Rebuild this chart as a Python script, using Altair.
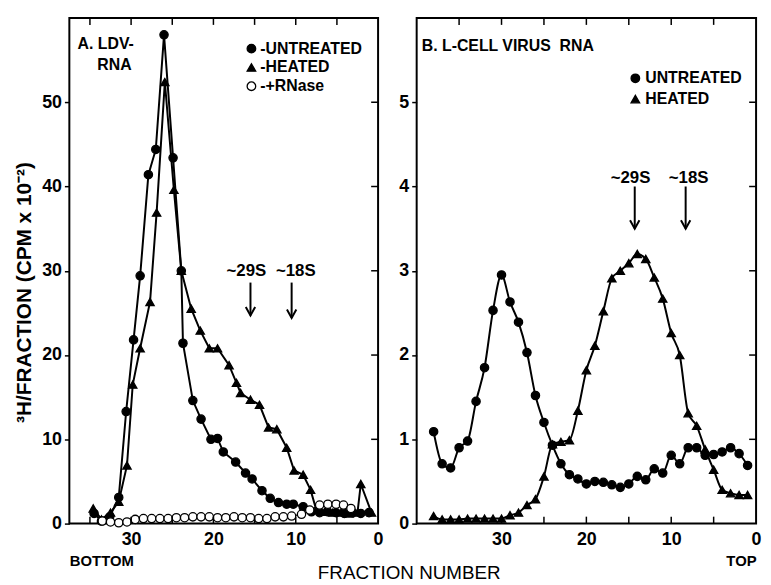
import altair as alt
import pandas as pd

FONT = "Liberation Sans"

# ---------------- Panel A: LDV-RNA ----------------
a_untreated_fraction = [34.5, 33.6, 32.6, 31.5, 30.6, 29.7, 28.9, 27.9, 27.0, 26.0, 24.9, 23.9, 23.7,
                        22.5, 21.5, 20.3, 19.5, 18.8, 17.3, 16.1, 15.3, 14.1, 13.1, 12.1, 11.1, 10.3,
                        9.1, 8.1, 7.1, 6.1, 5.1, 4.1, 3.1, 2.1, 1.1]
a_untreated_value = [1.2, 0.3, 0.8, 3.1, 13.3, 21.8, 29.4, 41.4, 44.4, 58.0, 43.4, 30.0, 21.4,
                     14.6, 12.4, 10.0, 10.1, 8.5, 7.3, 6.0, 5.3, 3.9, 3.0, 2.5, 2.3, 2.3,
                     2.0, 1.4, 1.3, 1.4, 1.3, 1.2, 1.3, 1.2, 1.3]

a_heated_fraction = [34.6, 33.6, 32.5, 31.5, 30.5, 29.8, 28.9, 27.7, 26.9, 25.9, 24.8, 23.9, 22.7,
                     21.6, 20.5, 19.5, 18.1, 17.2, 16.7, 15.5, 14.4, 13.3, 12.3, 11.1, 10.2, 9.1,
                     8.2, 7.5, 6.5, 5.5, 4.5, 3.5, 2.5, 2.1, 0.8]
a_heated_value = [1.8, 0.5, 1.3, 2.6, 6.9, 16.5, 20.8, 26.3, 36.9, 52.4, 39.6, 30.0, 25.5,
                  22.9, 20.8, 20.8, 18.8, 16.7, 15.5, 14.7, 14.1, 11.4, 11.2, 9.0, 6.3, 5.8,
                  4.0, 1.6, 1.4, 1.3, 1.3, 1.2, 1.3, 4.7, 1.3]

a_rnase_fraction = [33.5, 32.5, 31.5, 30.5, 29.5, 28.5, 27.5, 26.5, 25.5, 24.5, 23.5, 22.5, 21.5,
                    20.5, 19.5, 18.5, 17.5, 16.5, 15.5, 14.5, 13.5, 12.5, 11.5, 10.5, 9.3, 8.3,
                    7.1, 6.1, 5.1, 4.2, 3.3]
a_rnase_value = [0.3, 0.2, 0.1, 0.2, 0.5, 0.6, 0.6, 0.6, 0.6, 0.7, 0.7, 0.8, 0.8,
                 0.8, 0.7, 0.7, 0.8, 0.7, 0.7, 0.6, 0.6, 0.8, 0.8, 0.9, 1.1, 1.6,
                 2.2, 2.3, 2.3, 2.2, 1.8]

a_marker_labels = ["~29S", "~18S"]
a_marker_label_fraction = [16.0, 10.0]
a_marker_label_value = [30.0, 30.0]
a_arrow_fraction = [15.5, 10.5]
a_arrow_top = [28.6, 28.6]
a_arrow_tip = [24.7, 24.4]

a_panel_text = ["A. LDV-", "RNA"]
a_panel_text_fraction = [36.5, 34.1]
a_panel_text_value = [56.9, 54.4]

a_y_ticks = [0, 10, 20, 30, 40, 50]
a_inner_y_ticks = [10, 20, 30, 40, 50]

# ---------------- Panel B: L-cell virus RNA ----------------
b_fraction = list(range(38, 0, -1))
b_untreated_value = [1.09, 0.71, 0.66, 0.90, 0.98, 1.45, 1.85, 2.53, 2.95, 2.63, 2.39, 2.03, 1.52,
                     1.20, 0.93, 0.71, 0.58, 0.53, 0.47, 0.50, 0.49, 0.46, 0.43, 0.47, 0.56, 0.52,
                     0.65, 0.60, 0.81, 0.71, 0.90, 0.90, 0.81, 0.82, 0.85, 0.90, 0.83, 0.69]
b_heated_value = [0.09, 0.05, 0.05, 0.05, 0.06, 0.06, 0.06, 0.06, 0.06, 0.10, 0.13, 0.22, 0.29,
                  0.56, 0.94, 0.97, 0.99, 1.34, 1.82, 2.11, 2.52, 2.91, 3.00, 3.09, 3.20, 3.14,
                  2.92, 2.67, 2.26, 2.00, 1.31, 1.16, 0.88, 0.64, 0.40, 0.36, 0.34, 0.34]

b_marker_labels = ["~29S", "~18S"]
b_marker_label_fraction = [14.8, 7.95]
b_marker_label_value = [4.1, 4.1]
b_arrow_fraction = [14.3, 8.3]
b_arrow_top = [4.0, 4.0]
b_arrow_tip = [3.5, 3.5]

b_panel_text = ["B. L-CELL VIRUS\u00a0\u00a0RNA"]
b_panel_text_fraction = [39.4]
b_panel_text_value = [5.67]

b_y_ticks = [0, 1, 2, 3, 4, 5]
b_inner_y_ticks = [1, 2, 3, 4, 5]

x_labels = [30, 20, 10, 0]
x_inner_ticks = [35, 30, 25, 20, 15, 10, 5]

SERIES_ALL = ["UNTREATED", "HEATED", "+RNase"]
SHAPES_ALL = ["circle", "triangle-up", "circle"]
FILLS_ALL = ["black", "black", "white"]


def series_df(names, fracs, vals):
    rows = []
    for name, fs, vs in zip(names, fracs, vals):
        for f, v in zip(fs, vs):
            rows.append({"series": name, "fraction": f, "value": v})
    return pd.DataFrame(rows)


def build_panel(df, names, xdom, ydom, yticks, ytitle, xtitle, anchor, width, height, interp,
                legend_x, legend_y, label_expr, label_offset, row_pad,
                mk_labels, mk_lf, mk_lv, ar_f, ar_top, ar_tip,
                pt_text, pt_f, pt_v, inner_y):
    n = len(names)
    xax = alt.Axis(values=x_labels, tickSize=0, domain=False, grid=False,
                   labelFont=FONT, labelFontSize=18, labelFontWeight="bold", labelColor="black",
                   labelPadding=7, labelFlush=False,
                   title=xtitle, titleFont=FONT, titleFontSize=15, titleFontWeight="bold",
                   titleColor="black", titleAnchor=anchor,
                   titleAlign="left" if anchor == "start" else "right", titlePadding=5)
    yax = alt.Axis(values=yticks, tickSize=5, tickWidth=1.5, tickColor="black", domain=False,
                   grid=False, labelFont=FONT, labelFontSize=18, labelFontWeight="bold",
                   labelColor="black", labelPadding=3,
                   title=ytitle, titleFont=FONT, titleFontSize=21, titleFontWeight="bold",
                   titleColor="black", titlePadding=7, titleY=277)
    xs = alt.Scale(domain=xdom, nice=False, zero=False)
    ys = alt.Scale(domain=ydom, nice=False, zero=False)

    def X(field="fraction"):
        return alt.X(f"{field}:Q", scale=xs, axis=xax)

    def Y(field="value"):
        return alt.Y(f"{field}:Q", scale=ys, axis=yax)

    leg = alt.Legend(orient="none", legendX=legend_x, legendY=legend_y, title=None,
                     labelFont=FONT, labelFontSize=16, labelFontWeight="bold", labelColor="black",
                     symbolSize=75, symbolStrokeColor="black", symbolStrokeWidth=1.3,
                     labelOffset=label_offset, rowPadding=row_pad, padding=0,
                     labelExpr=label_expr)

    base = alt.Chart(df)
    main_lines = base.transform_filter(alt.datum.series != "+RNase").mark_line(
        color="black", strokeWidth=2, interpolate=interp).encode(
        x=X(), y=Y(), detail="series:N")
    layers = [main_lines]
    if "+RNase" in names:
        layers.append(base.transform_filter(alt.datum.series == "+RNase").mark_line(
            color="black", strokeWidth=1.2).encode(x=X(), y=Y()))
    points = base.mark_point(filled=True, strokeWidth=1.3, size=70, opacity=1).encode(
        x=X(), y=Y(),
        shape=alt.Shape("series:N", scale=alt.Scale(domain=names, range=SHAPES_ALL[:n]), legend=leg),
        fill=alt.Fill("series:N", scale=alt.Scale(domain=names, range=FILLS_ALL[:n]), legend=leg),
        stroke=alt.Stroke("series:N", scale=alt.Scale(domain=names, range=["black"] * n), legend=leg),
    )
    layers.append(points)

    ann = pd.DataFrame({"fraction": mk_lf, "value": mk_lv, "label": mk_labels})
    layers.append(alt.Chart(ann).mark_text(font=FONT, fontSize=17, fontWeight="bold", color="black",
                                           align="center", baseline="middle").encode(
        x=X(), y=Y(), text="label:N"))
    arr = pd.DataFrame({"fraction": ar_f, "top": ar_top, "value": ar_tip})
    layers.append(alt.Chart(arr).mark_rule(color="black", strokeWidth=2).encode(
        x=X(), y=Y("top"), y2=alt.Y2("value")))
    layers.append(alt.Chart(arr).mark_point(shape="M-1,-1.8L0,0L1,-1.8", filled=False, stroke="black",
                                            strokeWidth=2, size=90, opacity=1).encode(x=X(), y=Y()))

    ptxt = pd.DataFrame({"fraction": pt_f, "value": pt_v, "label": pt_text})
    layers.append(alt.Chart(ptxt).mark_text(font=FONT, fontSize=16, fontWeight="bold", color="black",
                                            align="left", baseline="middle").encode(
        x=X(), y=Y(), text="label:N"))

    # inward ticks on top, bottom and right
    xt = pd.DataFrame({"fraction": x_inner_ticks})
    layers.append(alt.Chart(xt).mark_rule(color="black", strokeWidth=1.5).encode(
        x=X(), y=alt.value(0), y2=alt.value(7)))
    layers.append(alt.Chart(xt).mark_rule(color="black", strokeWidth=1.5).encode(
        x=X(), y=alt.value(height - 7), y2=alt.value(height)))
    yt = pd.DataFrame({"value": inner_y})
    layers.append(alt.Chart(yt).mark_rule(color="black", strokeWidth=1.5).encode(
        y=Y(), x=alt.value(width - 7), x2=alt.value(width)))

    return alt.layer(*layers).properties(width=width, height=height)


dfA = series_df(SERIES_ALL,
                [a_untreated_fraction, a_heated_fraction, a_rnase_fraction],
                [a_untreated_value, a_heated_value, a_rnase_value])
dfB = series_df(SERIES_ALL[:2],
                [b_fraction, b_fraction],
                [b_untreated_value, b_heated_value])

panelA = build_panel(dfA, SERIES_ALL, [37.5, 0], [0, 60], a_y_ticks,
                     "³H/FRACTION (CPM x 10⁻²)", "BOTTOM", "start", 312, 511, "linear",
                     176, 23, "'-' + datum.label", 1, 3,
                     a_marker_labels, a_marker_label_fraction, a_marker_label_value,
                     a_arrow_fraction, a_arrow_top, a_arrow_tip,
                     a_panel_text, a_panel_text_fraction, a_panel_text_value, a_inner_y_ticks)

panelB = build_panel(dfB, SERIES_ALL[:2], [40, 0], [0, 6], b_y_ticks,
                     None, "TOP", "end", 343, 511, "monotone",
                     213, 53, "datum.label", 2, 5,
                     b_marker_labels, b_marker_label_fraction, b_marker_label_value,
                     b_arrow_fraction, b_arrow_top, b_arrow_tip,
                     b_panel_text, b_panel_text_fraction, b_panel_text_value, b_inner_y_ticks)

chart = alt.hconcat(panelA, panelB, spacing=12).resolve_scale(
    x="independent", y="independent", shape="independent", fill="independent",
    stroke="independent"
).resolve_legend(shape="independent", fill="independent", stroke="independent").properties(
    title=alt.TitleParams(text="FRACTION NUMBER", orient="bottom", anchor="middle", font=FONT,
                          fontSize=19, fontWeight="normal", color="black", offset=-5, dx=22),
    padding={"left": 4, "top": 5, "right": 0, "bottom": 0},
).configure_view(stroke="black", strokeWidth=2)

chart.save("out.html", embed_options={"renderer": "svg", "actions": False})
